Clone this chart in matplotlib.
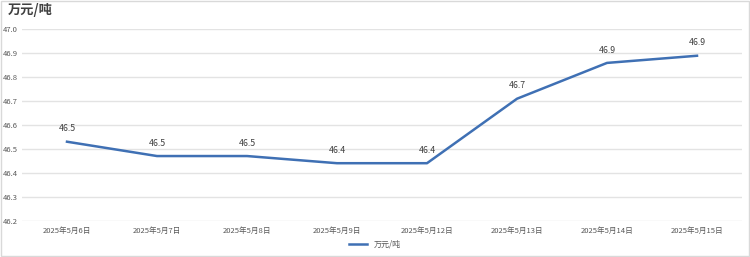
import matplotlib
matplotlib.use('Agg')
import matplotlib.pyplot as plt
from matplotlib.patches import Rectangle

plt.rcParams['font.family'] = ['Noto Sans CJK SC', 'DejaVu Sans']

# data
dates = ['2025年5月6日', '2025年5月7日', '2025年5月8日', '2025年5月9日',
         '2025年5月12日', '2025年5月13日', '2025年5月14日', '2025年5月15日']
prices = [46.53, 46.47, 46.47, 46.44, 46.44, 46.71, 46.86, 46.89]
y_ticks = [46.2, 46.3, 46.4, 46.5, 46.6, 46.7, 46.8, 46.9, 47.0]
unit = '万元/吨'

line_color = '#3f70b4'
grid_color = '#e3e3e3'
text_color = '#595959'

fig = plt.figure(figsize=(7.5, 2.57), dpi=100)
ax = fig.add_axes([22 / 750, 36 / 257, 720 / 750, 192 / 257])

x = list(range(len(dates)))
ax.plot(x, prices, color=line_color, linewidth=1.8, label=unit)
for xi, v in zip(x, prices):
    ax.annotate(f'{v:.1f}', (xi, v), xytext=(0, 6), textcoords='offset points',
                ha='center', va='bottom', fontsize=6.3, color='#404040')

ax.set_xlim(-0.5, len(dates) - 0.5)
ax.set_ylim(46.198, 47.002)
ax.set_yticks(y_ticks)
ax.set_yticklabels([f'{t:.1f}' for t in y_ticks])
ax.set_xticks(x)
ax.set_xticklabels(dates)
ax.tick_params(axis='both', length=0, labelsize=5.5, colors=text_color)
ax.tick_params(axis='x', pad=4)
ax.tick_params(axis='y', pad=3)
ax.grid(axis='y', color=grid_color, linewidth=1)
ax.set_axisbelow(True)
for s in ax.spines.values():
    s.set_visible(False)

fig.text(8 / 750, 1 - 10 / 257, unit, fontsize=9.5, fontweight='bold',
         color='#404040', ha='left', va='center')

leg = fig.legend(loc='center', bbox_to_anchor=(375 / 750, 1 - 244 / 257),
                 frameon=False, fontsize=5.8, handlelength=2.2)
for t in leg.get_texts():
    t.set_color(text_color)

# outer border
fig.patches.append(Rectangle((0.001, 0.002), 0.997, 0.995, transform=fig.transFigure,
                             fill=False, edgecolor='#d9d9d9', linewidth=1))

fig.savefig('out.png', dpi=100)
